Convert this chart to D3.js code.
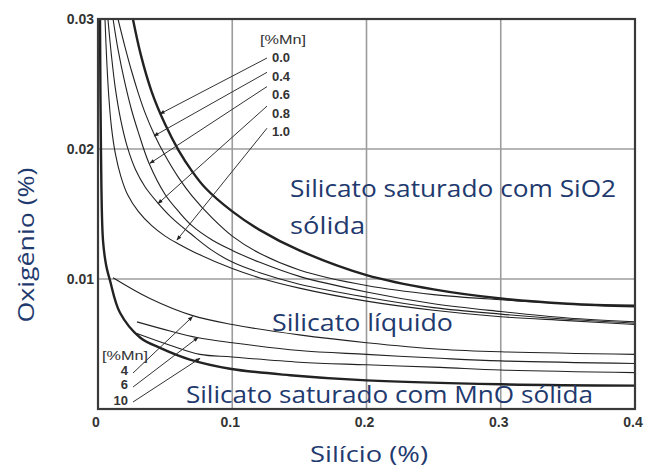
<!DOCTYPE html>
<html>
<head>
<meta charset="utf-8">
<script src="https://cdn.jsdelivr.net/npm/d3@7"></script>
<style>
  body { margin: 0; background: #fff; }
  svg { display: block; }
</style>
</head>
<body>
<script>
// Curves: Si (%) and O (%) pairs
var mn00Si = [0.026, 0.032, 0.04, 0.05, 0.06, 0.07, 0.08, 0.1, 0.12, 0.15, 0.2, 0.25, 0.3, 0.35, 0.4];
var mn00O  = [0.030, 0.0272, 0.0244, 0.0219, 0.0199, 0.0183, 0.0170, 0.0152, 0.0138, 0.0122, 0.0103, 0.0092, 0.0085, 0.0081, 0.0079];

var mn04Si = [0.0149, 0.02, 0.025, 0.03, 0.035, 0.042, 0.05, 0.06, 0.07, 0.085, 0.1, 0.12, 0.15, 0.2, 0.25, 0.3, 0.35, 0.4];
var mn04O  = [0.030, 0.0279, 0.0260, 0.0243, 0.0228, 0.0211, 0.0195, 0.0178, 0.0164, 0.0147, 0.0133, 0.0120, 0.0107, 0.0095, 0.0088, 0.0084, 0.0081, 0.0080];

var mn06Si = [0.0112, 0.015, 0.02, 0.025, 0.03, 0.038, 0.05, 0.06, 0.07, 0.085, 0.1, 0.12, 0.15, 0.2, 0.25, 0.3, 0.35, 0.4];
var mn06O  = [0.030, 0.0276, 0.0251, 0.0230, 0.0213, 0.0189, 0.0165, 0.0152, 0.0141, 0.0130, 0.0122, 0.0113, 0.0102, 0.0090, 0.0081, 0.0075, 0.0070, 0.0067];

var mn08Si = [0.0074, 0.01, 0.013, 0.017, 0.022, 0.028, 0.035, 0.045, 0.055, 0.07, 0.085, 0.1, 0.12, 0.15, 0.2, 0.25, 0.3, 0.35, 0.4];
var mn08O  = [0.030, 0.0272, 0.0246, 0.0222, 0.0201, 0.0184, 0.0171, 0.0158, 0.0147, 0.0134, 0.0122, 0.0113, 0.0105, 0.0096, 0.0086, 0.0078, 0.0073, 0.0069, 0.0066];

var mn10Si = [0.0052, 0.0065, 0.008, 0.01, 0.013, 0.017, 0.022, 0.03, 0.04, 0.05, 0.06, 0.075, 0.1, 0.12, 0.15, 0.2, 0.25, 0.3, 0.35, 0.4];
var mn10O  = [0.030, 0.0268, 0.0241, 0.0217, 0.0196, 0.0179, 0.0165, 0.0152, 0.0141, 0.0133, 0.0127, 0.0119, 0.0108, 0.0101, 0.0093, 0.0083, 0.0076, 0.0071, 0.0068, 0.0065];

var mnoSi = [0.0015, 0.0022, 0.0037, 0.006, 0.0089, 0.0164, 0.0313, 0.0462, 0.0685, 0.0983, 0.143, 0.2, 0.3, 0.4];
var mnoO  = [0.03, 0.02, 0.013, 0.0111, 0.0099, 0.0074, 0.0055, 0.0047, 0.0038, 0.0031, 0.0026, 0.0022, 0.0019, 0.0018];

var mn4Si = [0.0112, 0.0387, 0.07, 0.1, 0.15, 0.2, 0.255, 0.3, 0.4];
var mn4O  = [0.0101, 0.0085, 0.0072, 0.0065, 0.0057, 0.0051, 0.0046, 0.0044, 0.0042];

var mn6Si = [0.029, 0.0536, 0.0737, 0.1, 0.15, 0.2, 0.255, 0.3, 0.4];
var mn6O  = [0.0067, 0.006, 0.0055, 0.0051, 0.0045, 0.0042, 0.0039, 0.0037, 0.0035];

var mn10bSi = [0.029, 0.0536, 0.076, 0.1, 0.15, 0.2, 0.255, 0.3, 0.4];
var mn10bO  = [0.0058, 0.0049, 0.0042, 0.004, 0.0036, 0.0034, 0.0032, 0.003, 0.0028];

var xTicks = [0, 0.1, 0.2, 0.3, 0.4];
var xTickLabels = ['0', '0.1', '0.2', '0.3', '0.4'];
var yTicks = [0.01, 0.02, 0.03];
var yTickLabels = ['0.01', '0.02', '0.03'];

// labels of the upper family and where their arrows point
var upperLabels = ['0.0', '0.4', '0.6', '0.8', '1.0'];
var upperLabelO = [0.0271, 0.0256, 0.0242, 0.0228, 0.0214];
var upperArrowFromO = [0.0270, 0.0259, 0.0248, 0.0233, 0.0216];
var upperArrowToSi = [0.0462, 0.0417, 0.0387, 0.0447, 0.0588];
var upperArrowToO  = [0.0227, 0.0210, 0.0189, 0.0158, 0.0130];

var lowerLabels = ['4', '6', '10'];
var lowerLabelO = [0.0030, 0.0019, 0.0007];
var lowerArrowFromO = [0.00277, 0.00169, 0.00054];
var lowerArrowToSi = [0.0704, 0.0745, 0.076];
var lowerArrowToO  = [0.0071, 0.0055, 0.0039];

var width = 645, height = 474;
var margin = { top: 19, right: 10, bottom: 65, left: 98 };

var svg = d3.select('body').append('svg')
    .attr('width', width)
    .attr('height', height);

var x = d3.scaleLinear().domain([0, 0.4]).range([margin.left, width - margin.right]);
var y = d3.scaleLinear().domain([0, 0.03]).range([height - margin.bottom, margin.top]);

var textBlue = '#1f3a6e';
var tickFont = '"Liberation Sans", Arial, sans-serif';
var bigFont = '"Open Sans", "Noto Sans", sans-serif';

svg.append('defs').append('clipPath').attr('id', 'plot')
    .append('rect')
    .attr('x', x(0)).attr('y', y(0.03))
    .attr('width', x(0.4) - x(0)).attr('height', y(0) - y(0.03));

svg.append('defs').append('marker')
    .attr('id', 'head')
    .attr('viewBox', '0 0 10 10')
    .attr('refX', 9).attr('refY', 5)
    .attr('markerWidth', 6).attr('markerHeight', 5)
    .attr('orient', 'auto')
    .append('path')
    .attr('d', 'M0,1 L10,5 L0,9 Z')
    .attr('fill', '#222');

// grid
var grid = svg.append('g').attr('class', 'grid');
grid.selectAll('line.v').data([0.1, 0.2, 0.3]).enter().append('line')
    .attr('x1', d => x(d)).attr('x2', d => x(d))
    .attr('y1', y(0)).attr('y2', y(0.03))
    .attr('stroke', '#9c9c9c').attr('stroke-width', 1.6);
grid.selectAll('line.h').data([0.01, 0.02]).enter().append('line')
    .attr('y1', d => y(d)).attr('y2', d => y(d))
    .attr('x1', x(0)).attr('x2', x(0.4))
    .attr('stroke', '#9c9c9c').attr('stroke-width', 1.6);

// curves
var line = d3.line()
    .x(d => x(d[0]))
    .y(d => y(d[1]))
    .curve(d3.curveCatmullRom.alpha(0.5));

function zip(a, b) { return a.map((v, i) => [v, b[i]]); }

var curves = [
    { pts: zip(mn04Si, mn04O), w: 1.1 },
    { pts: zip(mn06Si, mn06O), w: 1.1 },
    { pts: zip(mn08Si, mn08O), w: 1.1 },
    { pts: zip(mn10Si, mn10O), w: 1.1 },
    { pts: zip(mn4Si, mn4O), w: 1.1 },
    { pts: zip(mn6Si, mn6O), w: 1.1 },
    { pts: zip(mn10bSi, mn10bO), w: 1.1 },
    { pts: zip(mn00Si, mn00O), w: 2.4 },
    { pts: zip(mnoSi, mnoO), w: 2.4 }
];

var curveG = svg.append('g').attr('clip-path', 'url(#plot)');
curves.forEach(function (c) {
    curveG.append('path')
        .attr('d', line(c.pts))
        .attr('fill', 'none')
        .attr('stroke', '#222')
        .attr('stroke-width', c.w);
});

// frame
svg.append('rect')
    .attr('x', x(0)).attr('y', y(0.03))
    .attr('width', x(0.4) - x(0)).attr('height', y(0) - y(0.03))
    .attr('fill', 'none').attr('stroke', '#3a3a3a').attr('stroke-width', 2.2);

// tick labels
svg.selectAll('text.xt').data(xTicks).enter().append('text')
    .attr('x', d => x(d) - 2).attr('y', y(0) + 18)
    .attr('text-anchor', 'middle')
    .attr('font-family', tickFont).attr('font-weight', 'bold')
    .attr('font-size', 14).attr('fill', '#333')
    .text((d, i) => xTickLabels[i]);

svg.selectAll('text.yt').data(yTicks).enter().append('text')
    .attr('x', x(0) - 4).attr('y', d => y(d) + 5)
    .attr('text-anchor', 'end')
    .attr('font-family', tickFont).attr('font-weight', 'bold')
    .attr('font-size', 14).attr('fill', '#333')
    .text((d, i) => yTickLabels[i]);

// arrows and small labels
var small = svg.append('g')
    .attr('font-family', tickFont).attr('font-weight', 'bold')
    .attr('font-size', 13).attr('fill', '#333');

small.append('text').attr('x', x(0.1207)).attr('y', y(0.0285) + 5).text('[%Mn]')
    .attr('font-weight', 'normal').attr('font-size', 13)
    .attr('textLength', 46).attr('lengthAdjust', 'spacingAndGlyphs');
upperLabels.forEach(function (lab, i) {
    small.append('text')
        .attr('x', x(0.1296)).attr('y', y(upperLabelO[i]) + 5)
        .text(lab);
    svg.append('line')
        .attr('x1', x(0.1259)).attr('y1', y(upperArrowFromO[i]))
        .attr('x2', x(upperArrowToSi[i])).attr('y2', y(upperArrowToO[i]))
        .attr('stroke', '#333').attr('stroke-width', 1)
        .attr('marker-end', 'url(#head)');
});

small.append('text').attr('x', x(0.003)).attr('y', y(0.00417) + 5).text('[%Mn]')
    .attr('font-weight', 'normal').attr('font-size', 13)
    .attr('textLength', 46).attr('lengthAdjust', 'spacingAndGlyphs');
lowerLabels.forEach(function (lab, i) {
    small.append('text')
        .attr('x', x(0.0224)).attr('y', y(lowerLabelO[i]) + 5)
        .attr('text-anchor', 'end')
        .text(lab);
    svg.append('line')
        .attr('x1', x(0.0261)).attr('y1', y(lowerArrowFromO[i]))
        .attr('x2', x(lowerArrowToSi[i])).attr('y2', y(lowerArrowToO[i]))
        .attr('stroke', '#333').attr('stroke-width', 1)
        .attr('marker-end', 'url(#head)');
});

// region labels, fitted to the widths seen in the picture
function bigText(tx, ty, str, size, w) {
    var t = svg.append('text')
        .attr('x', tx).attr('y', ty)
        .attr('font-family', bigFont)
        .attr('font-size', size)
        .attr('fill', textBlue)
        .text(str);
    if (w) t.attr('textLength', w).attr('lengthAdjust', 'spacingAndGlyphs');
    return t;
}

bigText(x(0.1431), y(0.0163), 'Silicato saturado com SiO2', 24, 326);
bigText(x(0.1431), y(0.0135), 'sólida', 24, 75);
bigText(x(0.1296), y(0.006), 'Silicato líquido', 24, 181);
bigText(x(0.0655), y(0.0005), 'Silicato saturado com MnO sólida', 24, 407);

// axis titles
bigText(369, 462, 'Silício (%)', 21, 118).attr('text-anchor', 'middle');
bigText(0, 0, 'Oxigênio (%)', 21, 155)
    .attr('text-anchor', 'middle')
    .attr('transform', 'translate(34,245) rotate(-90)');
</script>
</body>
</html>
